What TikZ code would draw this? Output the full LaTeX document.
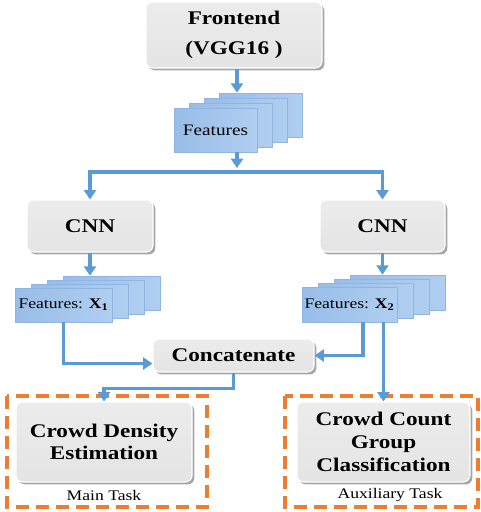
\documentclass[tikz,border=0pt]{standalone}
\usepackage{fontspec}
\setmainfont{Liberation Serif}[FakeStretch=1.2]
\usetikzlibrary{shapes,arrows,shadows,arrows.meta,calc}
\definecolor{flowblue}{HTML}{5B9BD5}
\definecolor{sheetdark}{HTML}{98BDE8}
\definecolor{sheetlight}{HTML}{B0CEF0}
\definecolor{sheetedge}{HTML}{8FB5E2}
\definecolor{taskorange}{HTML}{ED7D31}
\begin{document}
\begin{tikzpicture}[x=0.75pt,y=-0.75pt,
	block/.style={rounded corners=5pt, top color=gray!15, bottom color=gray!21, draw=white, line width=0.8pt, drop shadow={shadow xshift=1.8pt, shadow yshift=-1.8pt, fill=black!50, opacity=0.7}, font=\bfseries\fontsize{14.5}{17}\selectfont, align=center, inner sep=0pt},
	sheet/.style={left color=sheetdark, right color=sheetlight, draw=sheetedge, line width=0.5pt, inner sep=0pt, font=\fontsize{11}{13}\selectfont},
	flow/.style={flowblue, line width=2.5pt, -{Triangle[length=7pt,width=9pt]}},
	task/.style={taskorange, line width=2.3pt, dash pattern=on 10pt off 5pt},
	tasklabel/.style={font=\fontsize{11}{13}\selectfont}]
				\useasboundingbox (0,0) rectangle (480,512);
				\node[block, minimum width=132pt, minimum height=49.5pt] (frontend) at (234,35) {Frontend\\[5pt](VGG16 )};
				\foreach \i in {3,2,1} \node[sheet, minimum width=62.25pt, minimum height=33pt] (featA\i) at (215.5+15*\i,130-5*\i) {};
				\node[sheet, minimum width=62.25pt, minimum height=33pt, font=\fontsize{12}{14}\selectfont] (featA) at (215.5,130) {Features};
				\node[block, minimum width=94.5pt, minimum height=39pt] (cnnL) at (90,226) {CNN};
				\node[block, minimum width=93.75pt, minimum height=39pt] (cnnR) at (382.5,226) {CNN};
				\foreach \i in {3,2,1} \node[sheet, minimum width=72.75pt, minimum height=25.5pt] (featB\i) at (63.5+16*\i,305-4*\i) {};
				\node[sheet, minimum width=72.75pt, minimum height=25.5pt] (featB) at (63.5,305) {Features: \textbf{X}\textsubscript{\textbf{1}}};
				\foreach \i in {3,2,1} \node[sheet, minimum width=71.25pt, minimum height=26.25pt] (featC\i) at (349.5+16*\i,304.5-4*\i) {};
				\node[sheet, minimum width=71.25pt, minimum height=26.25pt] (featC) at (349.5,304.5) {Features: \textbf{X}\textsubscript{\textbf{2}}};
				\node[block, minimum width=120.75pt, minimum height=24.75pt] (concat) at (233.5,355.5) {Concatenate};
				\draw[task] (7,396) rectangle (207,507);
				\draw[task] (285,396) rectangle (478,507);
				\node[block, minimum width=132pt, minimum height=60pt] (density) at (104,442) {Crowd Density\\Estimation};
				\node[block, minimum width=129.75pt, minimum height=60pt] (group) at (383.5,442) {Crowd Count\\Group\\Classification};
				\node[tasklabel] (mainlbl) at (104,495) {Main Task};
				\node[tasklabel] (auxlbl) at (390,495) {Auxiliary Task};
				\coordinate (split) at (237,172);
				\draw[flow] (split |- frontend.south) -- (split |- featA3.north);
				\draw[flow] (split |- featA.south) -- ($(split)+(0,-4)$);
				\draw[flow] (split) -| (cnnL.north);
				\draw[flow] (split) -| (cnnR.north);
				\draw[flow] (cnnL.south) -- (cnnL.south |- featB3.north);
				\draw[flow] (cnnR.south) -- (cnnR.south |- featC3.north);
				\draw[flow] (featB.south) |- ($(concat.west)+(0,8)$);
				\draw[flow] ($(featC.south)+(13.5,0)$) |- (concat.east);
				\draw[flow] (featC.south -| group.north) -- (group.north);
				\draw[flow] (concat.south) -- ++(0,16) -| (density.north);
			\end{tikzpicture}
\end{document}
